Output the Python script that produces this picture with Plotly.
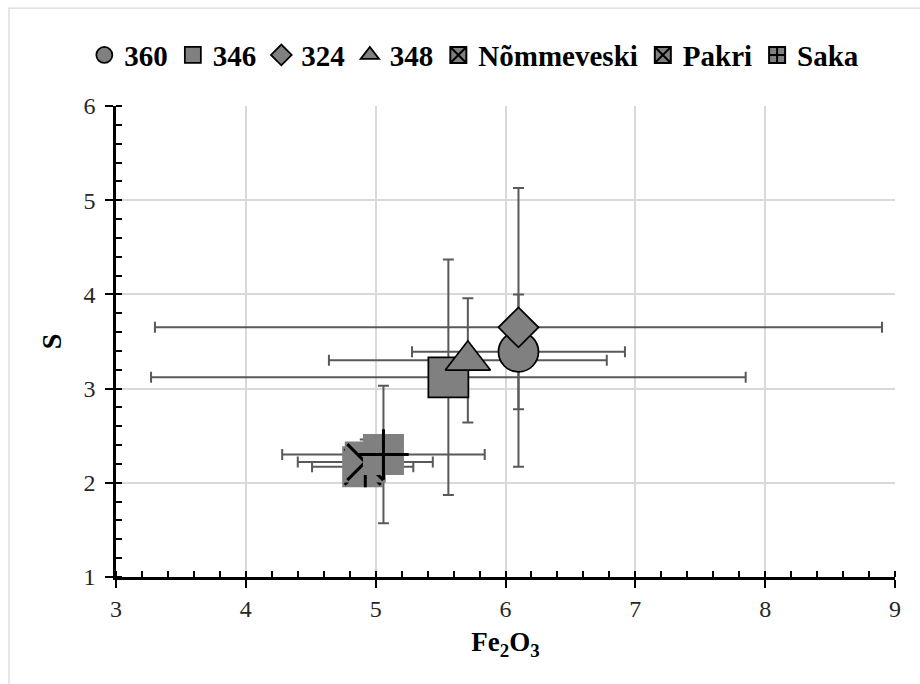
import plotly.graph_objects as go

# Sample means of Fe2O3 and S with their spreads
labels = ["360", "346", "324", "348", "Nõmmeveski", "Pakri", "Saka"]
fe2o3 = [6.10, 5.56, 6.10, 5.71, 4.90, 4.92, 5.06]
s_val = [3.39, 3.12, 3.65, 3.30, 2.17, 2.22, 2.30]
fe2o3_err = [0.82, 2.29, 2.80, 1.07, 0.39, 0.52, 0.78]
s_err = [0.61, 1.25, 1.48, 0.66, 0.20, 0.24, 0.73]

x_ticks = [3, 4, 5, 6, 7, 8, 9]
y_ticks = [1, 2, 3, 4, 5, 6]

FONT = "Liberation Serif"
GREY = "#808080"
ERR = "#595959"
MSIZE = 40

fig = go.Figure()

# error bars first so every marker sits above every bar
for i, name in enumerate(labels):
    fig.add_trace(go.Scatter(
        x=[fe2o3[i]], y=[s_val[i]], mode="markers",
        marker=dict(size=1, color="rgba(0,0,0,0)"),
        error_x=dict(type="data", array=[fe2o3_err[i]], color=ERR, thickness=2, width=5.5),
        error_y=dict(type="data", array=[s_err[i]], color=ERR, thickness=2, width=5.5),
        showlegend=False, hoverinfo="skip",
    ))

outlined = {"360": "circle", "346": "square", "324": "diamond", "348": "triangle-up"}
sizes = {"360": MSIZE, "346": MSIZE, "324": MSIZE / 1.3, "348": 39}
for i, name in enumerate(labels[:4]):
    fig.add_trace(go.Scatter(
        x=[fe2o3[i]], y=[s_val[i]], mode="markers", name=name,
        marker=dict(symbol=outlined[name], size=sizes[name], color=GREY,
                    line=dict(color="black", width=1.75)),
    ))

glyphs = {"Nõmmeveski": ["x-thin"], "Pakri": ["x-thin", "line-ns"], "Saka": ["cross-thin"]}
for i, name in enumerate(labels[4:], start=4):
    fig.add_trace(go.Scatter(
        x=[fe2o3[i]], y=[s_val[i]], mode="markers",
        marker=dict(symbol="square", size=41, color=GREY, line=dict(width=0)),
        showlegend=False,
    ))
    for g in glyphs[name]:
        fig.add_trace(go.Scatter(
            x=[fe2o3[i]], y=[s_val[i]], mode="markers",
            marker=dict(symbol=g, size=36, color="black", line=dict(color="black", width=3)),
            showlegend=False,
        ))

# legend keys for the filled-square glyph series
legend_sym = {"Nõmmeveski": "square-x", "Pakri": "square-x", "Saka": "square-cross"}
for name in labels[4:]:
    fig.add_trace(go.Scatter(
        x=[None], y=[None], mode="markers", name=name,
        marker=dict(symbol=legend_sym[name], size=16, color=GREY,
                    line=dict(color="black", width=2)),
    ))

axis_common = dict(
    showline=True, linecolor="black", linewidth=2.5,
    ticks="outside", ticklen=8, tickwidth=2, tickcolor="black",
    showgrid=True, gridcolor="#d9d9d9", gridwidth=1.5,
    zeroline=False, tickfont=dict(family=FONT, size=24, color="#262626"),
    minor=dict(dtick=0.2, ticks="inside", ticklen=6, tickwidth=1.5,
               tickcolor="black", showgrid=False),
    fixedrange=True,
)

fig.update_layout(
    width=920, height=684,
    margin=dict(l=116, r=25, t=106, b=107),
    paper_bgcolor="white", plot_bgcolor="white",
    font=dict(family=FONT, color="black"),
    xaxis=dict(range=[3, 9], tickvals=x_ticks, **axis_common,
               title=dict(text="Fe<sub>2</sub>O<sub>3</sub>",
                          font=dict(family=FONT, size=27, weight="bold"), standoff=12)),
    yaxis=dict(range=[1, 6], tickvals=y_ticks, **axis_common, ticklabelstandoff=5,
               title=dict(text="S", font=dict(family=FONT, size=28, weight="bold"), standoff=14)),
    xaxis2=dict(range=[3, 9], overlaying="x", anchor="y", side="bottom",
                tickvals=x_ticks, ticks="inside", ticklen=8, tickwidth=2, tickcolor="black",
                showticklabels=False, showgrid=False, showline=False, zeroline=False,
                fixedrange=True),
    yaxis2=dict(range=[1, 6], overlaying="y", anchor="x", side="left",
                tickvals=y_ticks, ticks="inside", ticklen=8, tickwidth=2, tickcolor="black",
                showticklabels=False, showgrid=False, showline=False, zeroline=False,
                fixedrange=True),
    legend=dict(orientation="h", x=0.46, xanchor="center", y=1.108, yanchor="middle",
                font=dict(family=FONT, size=29, weight="bold", color="black"),
                itemsizing="trace", bgcolor="rgba(0,0,0,0)"),
    shapes=[dict(type="rect", xref="paper", yref="paper",
                 x0=-0.1374, x1=1.04, y0=-0.25, y1=1.208,
                 line=dict(color="#d9d9d9", width=1.25), layer="below")],
)

fig.write_html("out.html")
